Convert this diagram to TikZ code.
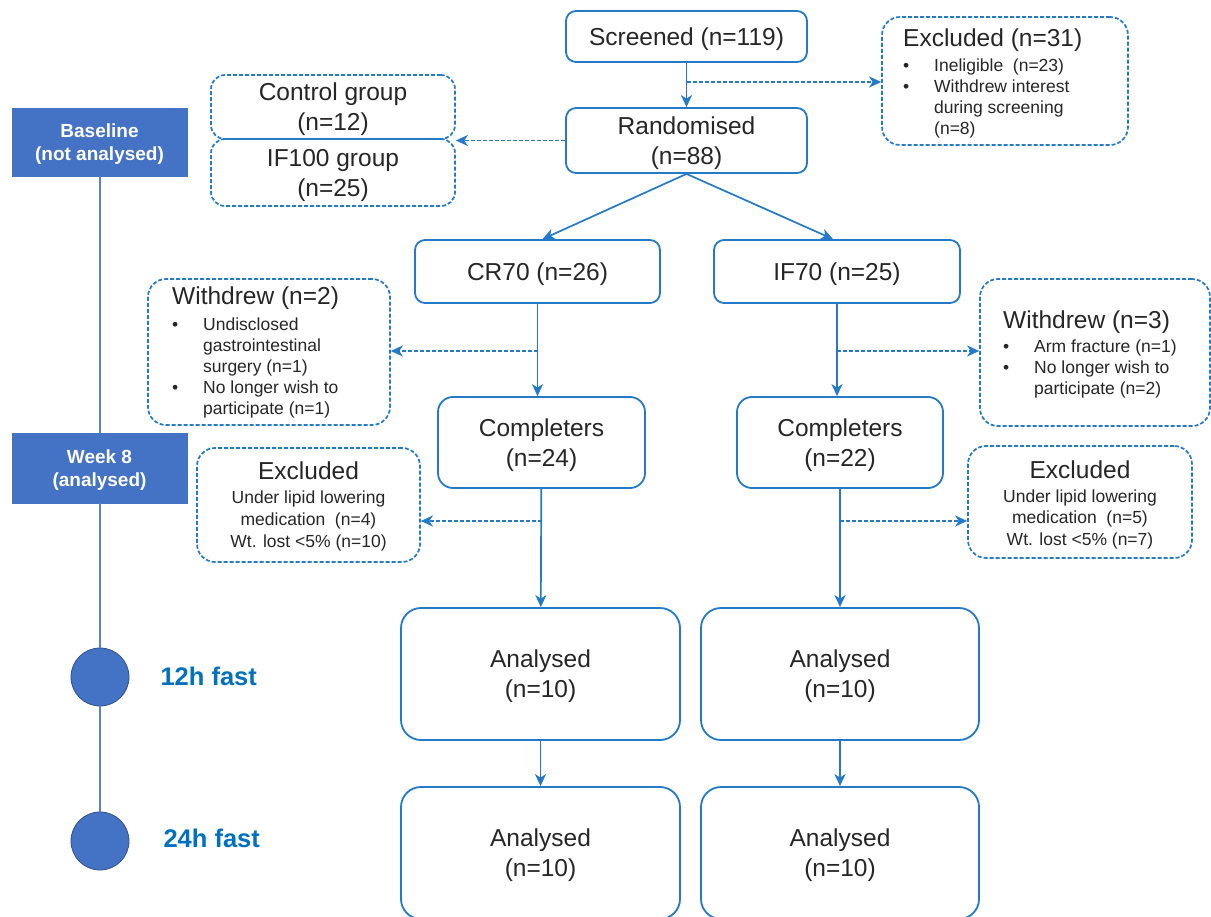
\documentclass[tikz,border=0pt]{standalone}
\usepackage{fontspec}
\setmainfont{Liberation Sans}
\usetikzlibrary{arrows.meta,calc}
\definecolor{bl}{RGB}{36,122,200}
\definecolor{tx}{RGB}{38,38,38}
\definecolor{tlfill}{RGB}{68,114,196}
\definecolor{tlline}{RGB}{90,127,208}
\definecolor{cbord}{RGB}{47,82,143}
\definecolor{fastc}{RGB}{0,112,192}
\newcommand\mainf{\fontsize{24.5pt}{30pt}\selectfont}
\newcommand\smf{\fontsize{17.5pt}{21.3pt}\selectfont}
\newcommand\smfb{\fontsize{17.5pt}{22pt}\selectfont}
\newcommand\tlf{\fontsize{19pt}{23pt}\selectfont\bfseries}
\newcommand\fastf{\fontsize{25.5pt}{30pt}\selectfont\bfseries}
\newcommand\bul{\makebox[31pt][l]{•}}
\newcommand\ind{\hspace*{31pt}}
\tikzset{
  sbox/.style={draw=bl, line width=1.8pt, rounded corners=10pt, align=center, text=tx, font=\mainf, inner sep=0pt, text depth=0pt},
  dbox/.style={draw=bl, line width=1.7pt, dash pattern=on 4pt off 2pt, rounded corners=18pt, inner sep=0pt, align=center, text=tx, font=\mainf, text depth=0pt},
  arr/.style={draw=bl, line width=1.7pt, -{Stealth[length=12pt,width=11pt,inset=3.5pt]}},
  darr/.style={arr, dash pattern=on 4pt off 2pt},
  tlbox/.style={fill=tlfill, draw=tlfill, text=white, font=\tlf, align=center, minimum width=175pt, inner sep=0pt, text depth=0pt},
  tline/.style={draw=tlline, line width=1.5pt},
  dot/.style={circle, fill=tlfill, draw=cbord, line width=0.8pt, minimum size=58pt, inner sep=0pt},
  fastlbl/.style={anchor=west, font=\fastf, text=fastc},
  info/.style={align=left, font=\smf, text=tx, inner sep=0pt},
}
\begin{document}
\begin{tikzpicture}[x=1pt,y=-1pt]
\useasboundingbox[fill=white] (0,0) rectangle (1211,917);

% timeline
\node[tlbox, minimum height=68pt] (base) at (99.5,142) {Baseline\\(not analysed)};
\node[tlbox, minimum height=70pt] (wk8) at (99.5,468) {Week 8\\(analysed)};
\node[dot] (c1) at (100,677) {};
\node[dot] (c2) at (100,841) {};
\draw[tline] (base.south -| 100,0) -- (wk8.north -| 100,0);
\draw[tline] (wk8.south -| 100,0) -- (c1.north);
\draw[tline] (c1.south) -- (c2.north);
\node[fastlbl] (f12) at (157,676) {12h fast};
\node[fastlbl] (f24) at (160,838) {24h fast};

% main boxes
\node[sbox, minimum width=241pt, minimum height=51pt] (scr) at (686.5,36.5) {Screened (n=119)};
\node[sbox, minimum width=241pt, minimum height=65pt] (rand) at (686.5,140.5) {Randomised\\(n=88)};
\node[sbox, minimum width=245pt, minimum height=63pt] (cr70) at (537.5,271.5) {CR70 (n=26)};
\node[sbox, minimum width=246pt, minimum height=63pt] (if70) at (837,271.5) {IF70 (n=25)};
\node[sbox, rounded corners=15pt, minimum width=207pt, minimum height=91pt] (comp1) at (541.5,442.5) {Completers\\(n=24)};
\node[sbox, rounded corners=15pt, minimum width=206pt, minimum height=91pt] (comp2) at (840,442.5) {Completers\\(n=22)};
\node[sbox, rounded corners=20pt, minimum width=279pt, minimum height=132pt] (an1) at (540.5,674) {Analysed\\(n=10)};
\node[sbox, rounded corners=20pt, minimum width=278pt, minimum height=132pt] (an2) at (840,674) {Analysed\\(n=10)};
\node[sbox, rounded corners=20pt, minimum width=279pt, minimum height=132pt] (an3) at (540.5,853) {Analysed\\(n=10)};
\node[sbox, rounded corners=20pt, minimum width=278pt, minimum height=132pt] (an4) at (840,853) {Analysed\\(n=10)};

% dashed boxes
\node[dbox, minimum width=244pt, minimum height=64pt, rounded corners=14pt] (ctrl) at (333,107) {Control group\\(n=12)};
\node[dbox, minimum width=244pt, minimum height=67pt, rounded corners=14pt] (if100) at (333,172.5) {IF100 group\\(n=25)};

\node[dbox, minimum width=246pt, minimum height=128pt] (excl) at (1005,81) {};
\node[info, anchor=west] (excltx) at (903,83.5) {{\mainf Excluded (n=31)}\\[3.5pt]
\bul Ineligible\ \ (n=23)\\
\bul Withdrew interest\\
\ind during screening\\
\ind (n=8)};

\node[dbox, minimum width=242pt, minimum height=146pt] (wd1) at (269,352) {};
\node[info, anchor=west, font=\fontsize{17.5pt}{21pt}\selectfont] (wd1tx) at (172,352) {{\mainf Withdrew (n=2)}\\[5pt]
\bul Undisclosed\\
\ind gastrointestinal\\
\ind surgery (n=1)\\
\bul No\ longer wish to\\
\ind participate (n=1)};

\node[dbox, minimum width=230pt, minimum height=147pt] (wd2) at (1095,352.5) {};
\node[info, anchor=west, font=\fontsize{17.5pt}{21pt}\selectfont] (wd2tx) at (1003,354) {{\mainf Withdrew (n=3)}\\[3pt]
\bul Arm fracture (n=1)\\
\bul No\ longer wish to\\
\ind participate (n=2)};

\node[dbox, minimum width=223pt, minimum height=114pt] (ex1) at (308.5,505) {};
\node[info, align=center, font=\smfb] (ex1tx) at (308.5,506) {{\mainf Excluded}\\[2pt]
Under lipid lowering\\
medication\ \ (n=4)\\
Wt. lost <5\% (n=10)};

\node[dbox, minimum width=224pt, minimum height=112pt] (ex2) at (1080,502) {};
\node[info, align=center, font=\fontsize{17.5pt}{21.5pt}\selectfont] (ex2tx) at (1080,505) {{\mainf Excluded}\\[2pt]
Under lipid lowering\\
medication\ \ (n=5)\\
Wt. lost <5\% (n=7)};

% connectors
\draw[arr] (scr) -- (rand);
\coordinate (j1) at (686.5,82);
\draw[darr] (j1) -- (j1 -| excl.west);
\draw[darr] (rand.west) -- (rand.west -| ctrl.east);
\draw[arr] (rand.south) -- ([xshift=5pt]cr70.north);
\draw[arr] (rand.south) -- ([xshift=-4pt]if70.north);
\draw[arr] (cr70.south) -- (cr70.south |- comp1.north);
\draw[arr] (if70.south) -- (if70.south |- comp2.north);
\coordinate (j2) at (537.5,351);
\coordinate (j3) at (837,351);
\draw[darr] (j2) -- (j2 -| wd1.east);
\draw[darr] (j3) -- (j3 -| wd2.west);
\draw[arr] (comp1) -- (an1);
\draw[arr] (comp2) -- (an2);
\coordinate (j4) at (541.5,521);
\coordinate (j5) at (840,521);
\draw[darr] (j4) -- (j4 -| ex1.east);
\draw[darr] (j5) -- (j5 -| ex2.west);
\draw[arr] (an1) -- (an3);
\draw[arr] (an2) -- (an4);
\end{tikzpicture}
\end{document}
